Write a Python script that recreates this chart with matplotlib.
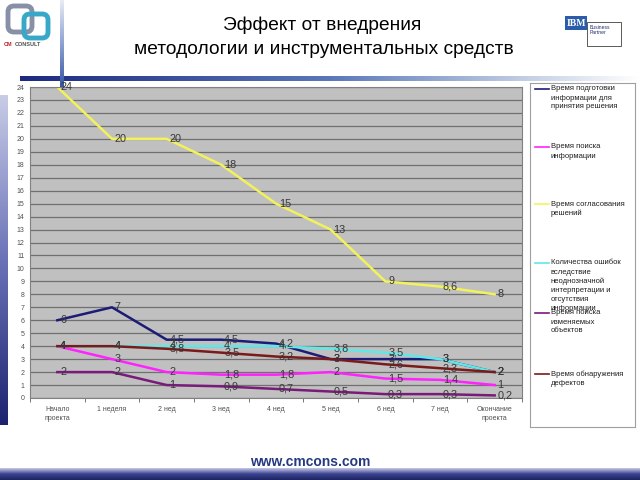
import matplotlib
matplotlib.use("Agg")
import matplotlib.pyplot as plt
from matplotlib.patches import Rectangle, FancyBboxPatch
import numpy as np

plt.rcParams['font.family'] = ['Liberation Sans', 'DejaVu Sans']

# data
categories = ["Начало\nпроекта", "1 неделя", "2 нед", "3 нед", "4 нед",
              "5 нед", "6 нед", "7 нед", "Окончание\nпроекта"]
prep_time = [6, 7, 4.5, 4.5, 4.2, 3, 3, 3, 2]
search_time = [4, 3, 2, 1.8, 1.8, 2, 1.5, 1.4, 1]
approve_time = [24, 20, 20, 18, 15, 13, 9, 8.6, 8]
errors = [4, 4, 4, 4, 4, 3.8, 3.5, 3, 2]
changed_objects = [2, 2, 1, 0.9, 0.7, 0.5, 0.3, 0.3, 0.2]
defects_time = [4, 4, 3.8, 3.5, 3.2, 3, 2.6, 2.3, 2]

series = [
    ("Время подготовки\nинформации для\nпринятия решения", prep_time, "#1c1c78"),
    ("Время поиска\nинформации", search_time, "#ff22ff"),
    ("Время согласования\nрешений", approve_time, "#f2f25a"),
    ("Количества ошибок\nвследствие\nнеоднозначной\nинтерпретации и\nотсутствия\nинформации", errors, "#5fe8e8"),
    ("Время поиска\nизменяемых\nобъектов", changed_objects, "#7a1a7a"),
    ("Время обнаружения\nдефектов", defects_time, "#7a1a1a"),
]

W, H = 640, 480
fig = plt.figure(figsize=(6.4, 4.8), dpi=100)


def px_axes(x0, y0, x1, y1, **kw):
    # axes placed by pixel box (top-left origin)
    return fig.add_axes([x0 / W, 1 - y1 / H, (x1 - x0) / W, (y1 - y0) / H], **kw)


def cmap(*cols):
    return matplotlib.colors.LinearSegmentedColormap.from_list("g", list(cols))


# decorations: gradient bars
grad = np.linspace(0, 1, 256)
bar = px_axes(0, 95, 8, 425)
bar.imshow(grad[:, None], aspect="auto", cmap=cmap("#c8cce6", "#6a72b8", "#1c2470"))
bar.axis("off")

bottom = px_axes(0, 468, 640, 480)
bottom.imshow(grad[:, None], aspect="auto", cmap=cmap("#c8cce6", "#3a4290", "#1c2460"))
bottom.axis("off")

hline = px_axes(20, 76, 640, 81)
hline.imshow(grad[None, :], aspect="auto", cmap=cmap("#1c2a80", "#5a78b8", "#ffffff"))
hline.axis("off")

vline = px_axes(60, 0, 64, 90)
vline.imshow(grad[:, None], aspect="auto", cmap=cmap("#e8ecf6", "#8aa0d0", "#3050a0"))
vline.axis("off")

# CM consult logo (rough)
logo = px_axes(2, 2, 58, 50)
logo.set_xlim(0, 56)
logo.set_ylim(48, 0)
logo.axis("off")
logo.add_patch(FancyBboxPatch((8, 6), 20, 22, boxstyle="round,pad=2,rounding_size=6",
                              fc="none", ec="#8890a8", lw=3.5))
logo.add_patch(FancyBboxPatch((24, 14), 20, 20, boxstyle="round,pad=2,rounding_size=6",
                              fc="none", ec="#38a8c8", lw=3.5))
logo.text(2, 44, "CM", color="#c02020", fontsize=4, fontweight="bold")
logo.text(13, 44, "CONSULT", color="#505050", fontsize=4, fontweight="bold")

# IBM business partner logo (rough)
ibm = px_axes(562, 14, 626, 48)
ibm.set_xlim(0, 64)
ibm.set_ylim(34, 0)
ibm.axis("off")
ibm.add_patch(Rectangle((3, 2), 22, 14, fc="#2a5caa", ec="none"))
ibm.text(14, 9, "IBM", color="white", fontsize=7, fontweight="bold", ha="center", va="center",
         family="Liberation Serif")
ibm.add_patch(Rectangle((25, 8), 34, 24, fc="white", ec="#404040", lw=0.6))
ibm.text(28, 16, "Business\nPartner", color="#203070", fontsize=3.6, va="center", linespacing=1.1)

# title
fig.text(322 / W, 1 - 25 / H, "Эффект от внедрения", ha="center", va="center", fontsize=13.8)
fig.text(324 / W, 1 - 50 / H, "методологии и инструментальных средств", ha="center", va="center",
         fontsize=13.8)
fig.text(310 / W, 1 - 462 / H, "www.cmcons.com", ha="center", va="center", fontsize=10,
         fontweight="bold", color="#253a80")

# main chart
ax = px_axes(30, 87, 522, 398)
ax.set_facecolor("#c0c0c0")
x = np.arange(len(categories))
for label, vals, color in series:
    ax.plot(x, vals, color=color, lw=1.8, label=label)
for label, vals, color in series:
    for xi, v in zip(x, vals):
        ax.annotate(f"{v:g}".replace(".", ","), (xi, v), xytext=(2, 0), textcoords="offset points",
                    ha="left", va="center", fontsize=7.8, color="#383838")

ax.set_xlim(-0.5, len(categories) - 0.5)
ax.set_ylim(0, 24)
ax.set_yticks(range(0, 25))
ax.yaxis.grid(True, color="#707070", lw=0.9)
ax.set_axisbelow(True)
ax.set_xticks(x)
ax.set_xticklabels(categories, fontsize=5, color="#505050", linespacing=1.4)
ax.set_xticks(np.arange(-0.5, len(categories)), minor=True)
ax.tick_params(axis="x", which="major", length=0, pad=6)
ax.tick_params(axis="x", which="minor", length=3, color="#606060")
ax.tick_params(axis="y", labelsize=5, labelcolor="#505050", length=0, pad=4)
for s in ax.spines.values():
    s.set_color("#808080")
    s.set_linewidth(0.8)

# legend drawn by hand
leg = px_axes(530, 83, 635, 427)
leg.set_xlim(530, 635)
leg.set_ylim(427, 83)
leg.set_xticks([])
leg.set_yticks([])
for s in leg.spines.values():
    s.set_color("#a0a0a0")
    s.set_linewidth(0.8)
legend_top = [89, 147, 204, 263, 313, 374]
for (label, vals, color), ty in zip(series, legend_top):
    leg.plot([535, 549], [ty, ty], color=color, lw=1.2)
    leg.text(551, ty - 3.5, label, fontsize=5.5, va="top", ha="left", color="#202020",
             linespacing=1.4)

fig.savefig("out.png", dpi=100)
